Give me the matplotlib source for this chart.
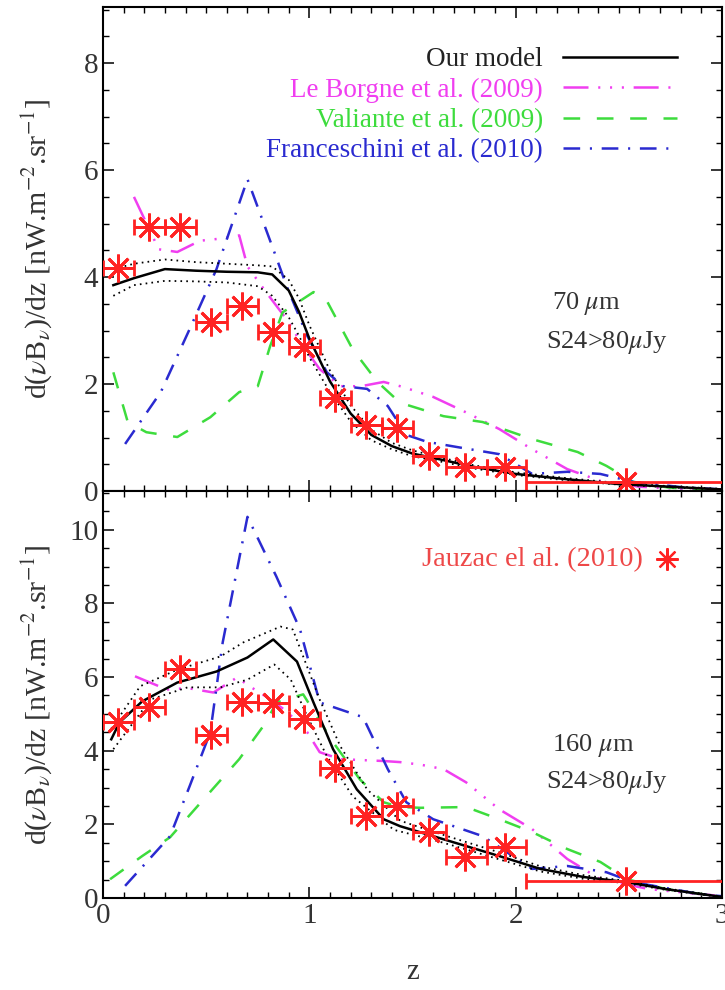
import matplotlib
matplotlib.use("Agg")
import matplotlib.pyplot as plt
from matplotlib.ticker import MultipleLocator

plt.rcParams["font.family"] = ["Liberation Serif", "DejaVu Serif"]
plt.rcParams["mathtext.fontset"] = "stix"
plt.rcParams["lines.scale_dashes"] = False

# Jauzac et al. (2010) stacking points: redshift bins
z_lo = [0.0, 0.15, 0.30, 0.45, 0.60, 0.75, 0.90, 1.05, 1.20, 1.35, 1.50, 1.66, 1.86, 2.05]
z_hi = [0.15, 0.30, 0.45, 0.60, 0.75, 0.90, 1.05, 1.20, 1.35, 1.50, 1.66, 1.86, 2.05, 3.10]
z_pt = [0.075, 0.225, 0.375, 0.525, 0.675, 0.825, 0.975, 1.125, 1.275, 1.425, 1.58, 1.755, 1.95, 2.535]
jauzac_70 = [4.17, 4.93, 4.93, 3.16, 3.46, 2.97, 2.69, 1.74, 1.23, 1.18, 0.65, 0.45, 0.45, 0.17]
jauzac_160 = [4.77, 5.18, 6.21, 4.42, 5.31, 5.30, 4.85, 3.52, 2.22, 2.49, 1.79, 1.11, 1.38, 0.46]

# 70 micron: our model (with upper / lower envelope)
z_mod70 = [0.05, 0.15, 0.30, 0.45, 0.60, 0.75, 0.82, 0.90, 0.95, 1.00, 1.10, 1.20,
           1.30, 1.40, 1.50, 1.60, 1.80, 2.00, 2.25, 2.50, 2.75, 3.00]
mod70 = [3.85, 3.98, 4.15, 4.12, 4.10, 4.09, 4.05, 3.75, 3.35, 2.85, 2.05, 1.45,
         1.05, 0.84, 0.70, 0.62, 0.45, 0.32, 0.22, 0.13, 0.08, 0.03]
mod70_hi = [4.15, 4.25, 4.33, 4.28, 4.25, 4.22, 4.20, 3.95, 3.60, 3.10, 2.25, 1.60,
            1.15, 0.90, 0.76, 0.66, 0.48, 0.35, 0.24, 0.15, 0.09, 0.04]
mod70_lo = [3.65, 3.85, 3.93, 3.92, 3.90, 3.83, 3.65, 3.25, 2.90, 2.50, 1.85, 1.30,
            0.95, 0.78, 0.65, 0.58, 0.42, 0.30, 0.20, 0.12, 0.07, 0.02]

# 70 micron: other models
z_lb70 = [0.15, 0.27, 0.36, 0.47, 0.57, 0.66, 0.70, 0.79, 0.89, 0.97, 1.05, 1.15,
          1.25, 1.36, 1.45, 1.60, 1.76, 1.92, 2.08, 2.25, 2.41, 2.60, 2.80, 3.00]
lb70 = [5.50, 4.52, 4.47, 4.68, 4.72, 4.78, 4.20, 3.72, 3.21, 2.71, 2.28, 1.96,
        1.96, 2.04, 1.95, 1.76, 1.47, 1.16, 0.78, 0.41, 0.19, 0.08, 0.04, 0.02]
z_va70 = [0.05, 0.12, 0.21, 0.36, 0.52, 0.66, 0.75, 0.81, 0.87, 1.02, 1.08, 1.21,
          1.33, 1.44, 1.65, 1.84, 2.08, 2.30, 2.44, 2.57, 2.75, 3.00]
va70 = [2.22, 1.29, 1.10, 1.01, 1.38, 1.85, 1.96, 2.71, 3.34, 3.72, 3.59, 2.65,
        2.04, 1.65, 1.40, 1.29, 0.97, 0.73, 0.47, 0.17, 0.06, 0.02]
z_fr70 = [0.107, 0.28, 0.42, 0.55, 0.70, 0.83, 0.89, 0.99, 1.085, 1.165, 1.28,
          1.38, 1.47, 1.57, 1.72, 1.92, 2.08, 2.25, 2.41, 2.57, 2.81, 3.00]
fr70 = [0.88, 1.85, 3.03, 4.15, 5.83, 4.47, 3.83, 2.90, 2.22, 1.96, 1.91,
        1.59, 1.05, 0.92, 0.82, 0.69, 0.32, 0.36, 0.32, 0.17, 0.07, 0.03]

# 160 micron: our model (with upper / lower envelope)
z_mod160 = [0.04, 0.08, 0.19, 0.36, 0.55, 0.70, 0.825, 0.94, 1.02, 1.115, 1.23,
            1.36, 1.44, 1.60, 1.76, 1.92, 2.12, 2.33, 2.54, 2.73, 3.00]
mod160 = [4.31, 4.77, 5.34, 5.85, 6.15, 6.53, 7.02, 6.42, 5.31, 4.04, 2.95,
          2.14, 1.95, 1.68, 1.41, 1.14, 0.79, 0.57, 0.43, 0.24, 0.03]
z_mod160_hi = [0.04, 0.18, 0.36, 0.57, 0.68, 0.86, 0.92, 0.97, 1.05, 1.15, 1.28,
               1.44, 1.60, 1.76, 1.92, 2.12, 2.33, 2.54, 2.73, 3.00]
mod160_hi = [4.60, 5.75, 6.20, 6.56, 6.94, 7.37, 7.29, 6.56, 5.39, 4.12, 2.95,
             2.10, 1.80, 1.52, 1.24, 0.86, 0.62, 0.46, 0.26, 0.04]
z_mod160_lo = [0.05, 0.23, 0.41, 0.57, 0.70, 0.83, 0.91, 0.99, 1.085, 1.21, 1.41,
               1.60, 1.76, 1.92, 2.12, 2.33, 2.54, 2.73, 3.00]
mod160_lo = [4.04, 5.39, 5.72, 5.72, 5.93, 6.34, 5.93, 4.93, 3.85, 2.76, 1.85,
             1.58, 1.32, 1.05, 0.72, 0.52, 0.40, 0.22, 0.02]

# 160 micron: other models
z_lb160 = [0.155, 0.31, 0.41, 0.535, 0.65, 0.71, 0.79, 0.89, 0.99, 1.05, 1.15,
           1.36, 1.44, 1.54, 1.65, 1.76, 1.92, 2.08, 2.25, 2.41, 2.65, 3.00]
lb160 = [6.02, 5.66, 5.70, 5.58, 5.99, 5.75, 5.47, 5.07, 4.50, 3.96, 3.77,
         3.72, 3.69, 3.62, 3.50, 3.14, 2.41, 1.87, 1.06, 0.51, 0.24, 0.05]
z_va160 = [0.034, 0.19, 0.325, 0.50, 0.66, 0.79, 0.84, 0.97, 1.115, 1.245, 1.36,
           1.44, 1.54, 1.76, 1.92, 2.08, 2.25, 2.41, 2.54, 2.73, 3.00]
va160 = [0.51, 1.14, 1.65, 2.76, 3.77, 4.77, 5.31, 5.53, 4.23, 3.22, 2.60,
         2.47, 2.45, 2.47, 2.14, 1.79, 1.33, 0.98, 0.51, 0.24, 0.03]
z_fr160 = [0.107, 0.325, 0.42, 0.52, 0.58, 0.70, 0.84, 0.955, 1.05, 1.26, 1.38,
           1.47, 1.60, 1.84, 2.08, 2.25, 2.44, 2.57, 2.90, 3.00]
fr160 = [0.33, 1.68, 3.04, 4.50, 6.94, 10.35, 8.73, 7.29, 5.31, 4.91, 3.50,
         2.60, 2.14, 1.68, 0.79, 0.87, 0.70, 0.43, 0.10, 0.05]

# styles
RED = "#ff2222"
MAG = "#f03ef0"
GRN = "#3ddc3d"
BLU = "#2a2ad0"
TXT = "#333333"
DASH_LB = (0, (18, 7, 1.5, 7, 1.5, 7, 1.5, 7))
DASH_VA = (0, (12, 12))
DASH_FR = (0, (12, 7, 1.5, 7))
DOT = (0, (1.2, 3))
STAR = (8, 2, 0)

fig = plt.figure(figsize=(7.25, 9.9), dpi=100)
ax1 = fig.add_axes([0.1421, 0.5040, 0.8538, 0.4889])
ax2 = fig.add_axes([0.1421, 0.0929, 0.8538, 0.4111])


def draw_panel(ax, z_m, m, z_hi_, m_hi, z_lo_, m_lo, z_lb, lb, z_va, va, z_fr, fr, pts):
    ax.plot(z_lb, lb, color=MAG, lw=1.8, ls=DASH_LB, label="Le Borgne et al. (2009)", zorder=2)
    ax.plot(z_va, va, color=GRN, lw=1.8, ls=DASH_VA, label="Valiante et al. (2009)", zorder=2)
    ax.plot(z_fr, fr, color=BLU, lw=1.8, ls=DASH_FR, label="Franceschini et al. (2010)", zorder=2)
    ax.plot(z_hi_, m_hi, color="k", lw=1.3, ls=DOT, zorder=3)
    ax.plot(z_lo_, m_lo, color="k", lw=1.3, ls=DOT, zorder=3)
    ax.plot(z_m, m, color="k", lw=1.8, label="Our model", zorder=3)
    xerr = [[p - lo for p, lo in zip(z_pt, z_lo)], [hi - p for p, hi in zip(z_pt, z_hi)]]
    ax.errorbar(z_pt, pts, xerr=xerr, fmt="none", ecolor=RED, elinewidth=2,
                capsize=6, capthick=2, zorder=4)
    ax.plot(z_pt, pts, ls="none", marker=STAR, ms=20, mew=2, color=RED, zorder=5)

    ax.set_xlim(0, 3)
    ax.xaxis.set_major_locator(MultipleLocator(1))
    ax.xaxis.set_minor_locator(MultipleLocator(0.1))
    ax.yaxis.set_major_locator(MultipleLocator(2))
    ax.yaxis.set_minor_locator(MultipleLocator(0.5))
    ax.tick_params(which="both", direction="in", top=True, right=True,
                   labelsize=21, labelcolor=TXT)
    ax.tick_params(which="major", length=8, width=1.1)
    ax.tick_params(which="minor", length=4.5, width=1.0)
    for sp in ax.spines.values():
        sp.set_linewidth(1.5)
    ax.set_ylabel(r"d($\nu$B$_{\nu}$)/dz [nW.m$^{-2}$.sr$^{-1}$]", fontsize=21.5, color=TXT)
    ax.yaxis.set_label_coords(-0.08, 0.5)


draw_panel(ax1, z_mod70, mod70, z_mod70, mod70_hi, z_mod70, mod70_lo,
           z_lb70, lb70, z_va70, va70, z_fr70, fr70, jauzac_70)
draw_panel(ax2, z_mod160, mod160, z_mod160_hi, mod160_hi, z_mod160_lo, mod160_lo,
           z_lb160, lb160, z_va160, va160, z_fr160, fr160, jauzac_160)

ax1.set_ylim(0, 9.05)
ax1.tick_params(axis="x", labelbottom=False)
ax2.set_ylim(0, 11.05)
ax2.set_xlabel("z", fontsize=21, color=TXT, labelpad=22)

# legend in top panel: text right-aligned, line sample on the right
h, l = ax1.get_legend_handles_labels()
order = [3, 0, 1, 2]
leg = ax1.legend([h[i] for i in order], [l[i] for i in order], loc="upper right",
                 bbox_to_anchor=(0.927, 0.917), frameon=False, markerfirst=False,
                 fontsize=19.5, handlelength=4.2, handletextpad=0.75,
                 labelspacing=0.2, borderpad=0, borderaxespad=0,
                 labelcolor=["#222222", MAG, GRN, BLU])

ax1.text(0.725, 0.388, r"70 $\mu$m", transform=ax1.transAxes, fontsize=19, color=TXT, va="center")
ax1.text(0.716, 0.306, r"S24>80$\mu$Jy", transform=ax1.transAxes, fontsize=19, color=TXT, va="center")
ax2.text(0.725, 0.375, r"160 $\mu$m", transform=ax2.transAxes, fontsize=19, color=TXT, va="center")
ax2.text(0.716, 0.284, r"S24>80$\mu$Jy", transform=ax2.transAxes, fontsize=19, color=TXT, va="center")

ax2.text(0.515, 0.832, "Jauzac el al. (2010)", transform=ax2.transAxes, fontsize=20.5,
         color="#ee4848", va="center", ha="left")
ax2.plot([0.911], [0.832], transform=ax2.transAxes, marker=STAR, ms=16, mew=1.6,
         color=RED, ls="none", clip_on=False)

fig.savefig("out.png", dpi=100)
